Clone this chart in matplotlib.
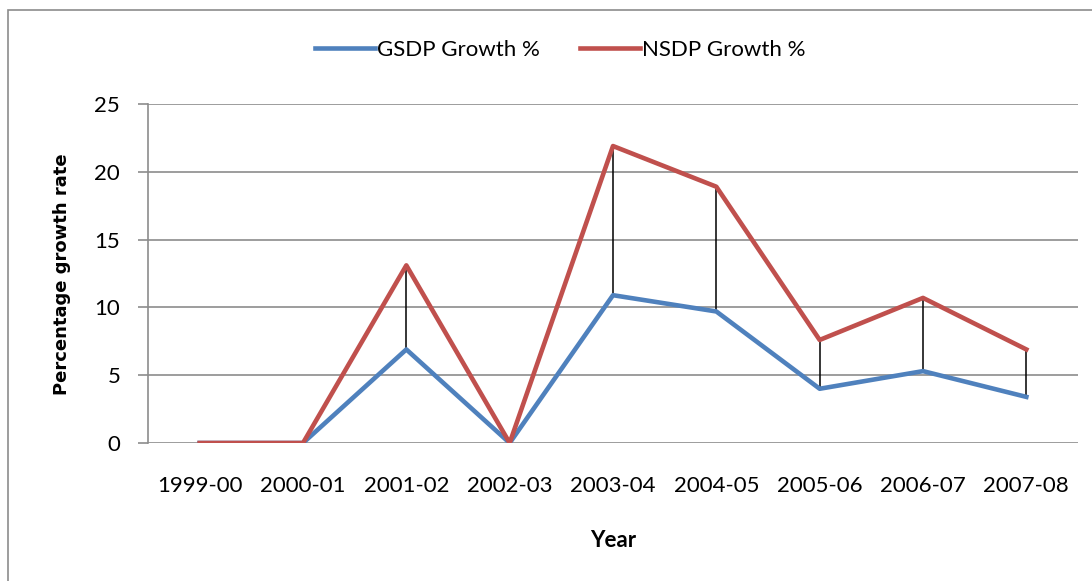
import matplotlib.pyplot as plt
from matplotlib.patches import Rectangle

plt.rcParams['font.family'] = ['Lato', 'DejaVu Sans']

# growth rates by year
years = ['1999-00', '2000-01', '2001-02', '2002-03', '2003-04',
         '2004-05', '2005-06', '2006-07', '2007-08']
gsdp = [0, 0, 6.9, 0, 10.9, 9.7, 4.0, 5.3, 3.4]
nsdp = [0, 0, 13.1, 0, 21.9, 18.9, 7.6, 10.7, 6.9]

blue = '#4F81BD'
red = '#C0504D'
fs = 16

fig = plt.figure(figsize=(10.92, 5.81), dpi=100)
ax = fig.add_axes([148 / 1092, 1 - 443 / 581, (1078 - 148) / 1092, (443 - 104) / 581])

# outer chart frame
fig.patches.append(Rectangle((8 / 1092, -0.1), 1.2, 1 - 10 / 581 + 0.1,
                             transform=fig.transFigure, fill=False,
                             edgecolor='#8c8c8c', linewidth=1.2))

x = range(len(years))

# high-low connectors between the two series
ax.vlines(x, gsdp, nsdp, colors='black', linewidth=1.1, zorder=2)

ax.plot(x, gsdp, color=blue, linewidth=3.3, label='GSDP Growth %', zorder=3,
        solid_joinstyle='round')
ax.plot(x, nsdp, color=red, linewidth=3.3, label='NSDP Growth %', zorder=3,
        solid_joinstyle='round')

ax.set_xlim(-0.5, len(years) - 0.5)
ax.set_ylim(0, 25)
ax.set_yticks([0, 5, 10, 15, 20, 25])
ax.set_xticks(list(x))
ax.set_xticklabels(years)

ax.grid(axis='y', color='#8c8c8c', linewidth=1.2)
ax.set_axisbelow(True)
for s in ['top', 'right', 'bottom']:
    ax.spines[s].set_visible(False)
ax.spines['left'].set_color('#8c8c8c')
ax.spines['left'].set_linewidth(1.2)
ax.tick_params(axis='y', length=7, width=1.2, color='#8c8c8c', labelsize=fs, pad=13)
ax.tick_params(axis='x', length=0, labelsize=fs, pad=24)

ax.set_xlabel('Year', fontsize=fs, fontweight='bold', labelpad=24)
fig.text(62 / 1092, 1 - 274 / 581, 'Percentage growth rate', rotation=90,
         fontsize=13, fontweight='bold', family='DejaVu Sans',
         ha='center', va='center')

fig.legend(loc='center', bbox_to_anchor=(0.513, 1 - 50 / 581), ncol=2,
           frameon=False, fontsize=fs, handlelength=2.7, handletextpad=0.1,
           columnspacing=1.8)

fig.savefig('out.png', dpi=100)
